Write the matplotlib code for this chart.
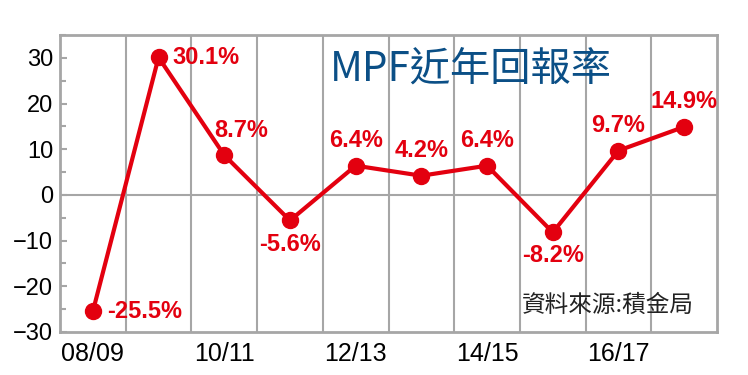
import numpy as np
import matplotlib.pyplot as plt
from matplotlib.ticker import MultipleLocator

# MPF 近年回報率 (%)
years = ['08/09', '09/10', '10/11', '11/12', '12/13', '13/14', '14/15', '15/16', '16/17', '17/18']
returns = [-25.5, 30.1, 8.7, -5.6, 6.4, 4.2, 6.4, -8.2, 9.7, 14.9]
labels = ['-25.5%', '30.1%', '8.7%', '-5.6%', '6.4%', '4.2%', '6.4%', '-8.2%', '9.7%', '14.9%']
# where each label sits relative to its point
label_pos = ['right', 'right', 'above', 'below', 'above', 'above', 'above', 'below', 'above', 'above']
label_dx = [0, 0, 12, 0, 0, 0, 0, 0, 0, 0]

red = '#e3000f'
grey = '#a6a6a6'

plt.rcParams['font.family'] = ['Liberation Sans', 'DejaVu Sans']

fig = plt.figure(figsize=(7.48, 3.75), dpi=100)
ax = fig.add_axes([0.0802, 0.1147, 0.8784, 0.792])

x = np.arange(len(years))
ax.plot(x, returns, color=red, lw=3, marker='o', ms=11.5, zorder=3)

lab_font = dict(weight='bold', size=17, color=red)
for xi, yi, txt, pos, dx in zip(x, returns, labels, label_pos, label_dx):
    if pos == 'right':
        ax.annotate(txt, (xi, yi), xytext=(10, 0), textcoords='offset points',
                    ha='left', va='center', **lab_font)
    elif pos == 'above':
        ax.annotate(txt, (xi, yi), xytext=(dx, 18), textcoords='offset points',
                    ha='center', va='center', **lab_font)
    else:
        ax.annotate(txt, (xi, yi), xytext=(dx, -17), textcoords='offset points',
                    ha='center', va='center', **lab_font)

ax.set_xlim(-0.5, len(years) - 0.5)
ax.set_ylim(-30, 35)
ax.set_xticks(x[::2])
ax.set_xticklabels(years[::2])
ax.set_yticks(np.arange(-30, 31, 10))
ax.yaxis.set_minor_locator(MultipleLocator(5))
ax.tick_params(axis='x', length=0, pad=7, labelsize=18)
ax.tick_params(axis='y', which='both', direction='in', color=grey, width=1.5,
               labelsize=17, pad=5)
ax.tick_params(axis='y', which='major', length=5)
ax.tick_params(axis='y', which='minor', length=4)

for xv in np.arange(0.5, len(years) - 1, 1):
    ax.axvline(xv, color=grey, lw=1.5, zorder=1)
ax.axhline(0, color=grey, lw=1.5, zorder=1)
for s in ax.spines.values():
    s.set_color(grey)
    s.set_linewidth(2)

ax.text(0.625, 0.885, 'MPF近年回報率', transform=ax.transAxes, ha='center', va='center',
        fontsize=29, color='#0b4f86', family=['Noto Sans CJK TC', 'DejaVu Sans'])
ax.text(0.965, 0.09, '資料來源:積金局', transform=ax.transAxes, ha='right', va='center',
        fontsize=17, color='#222222', family=['Noto Sans CJK TC', 'DejaVu Sans'])

plt.savefig('out.png', dpi=100)
